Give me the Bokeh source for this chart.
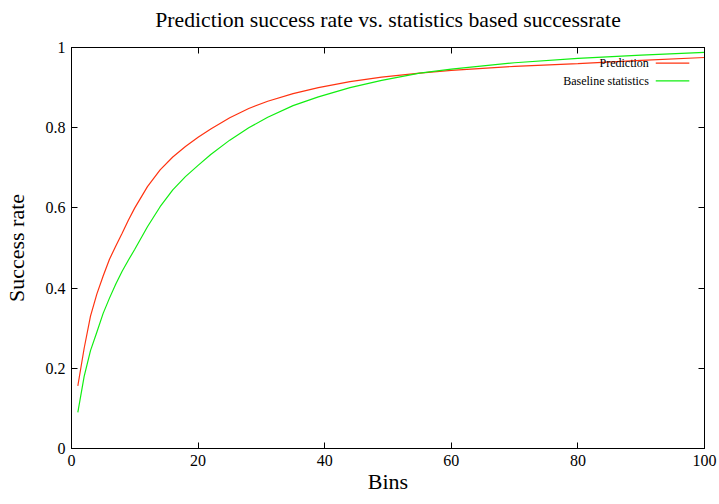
from bokeh.plotting import figure
from bokeh.models import LinearAxis, FixedTicker, Label, Arrow, Range1d, CustomLabelingPolicy
from bokeh.embed import file_html
from bokeh.resources import INLINE

bins = [1, 2, 3, 4, 5, 6, 7, 8, 9, 10, 12, 14, 16, 18, 20, 22, 25, 28, 31, 35, 39, 44, 49,
        55, 60, 70, 80, 90, 100]
prediction = [0.156, 0.25, 0.33, 0.385, 0.43, 0.472, 0.505, 0.537, 0.57, 0.60, 0.653, 0.695,
              0.727, 0.753, 0.776, 0.797, 0.825, 0.848, 0.866, 0.885, 0.900, 0.915, 0.926,
              0.936, 0.943, 0.953, 0.960, 0.968, 0.975]
baseline = [0.09, 0.18, 0.244, 0.29, 0.337, 0.375, 0.41, 0.442, 0.47, 0.497, 0.553, 0.603,
            0.645, 0.678, 0.706, 0.733, 0.769, 0.80, 0.826, 0.855, 0.877, 0.90, 0.918,
            0.936, 0.946, 0.962, 0.973, 0.981, 0.988]
x_ticks = [0, 20, 40, 60, 80, 100]
y_ticks = [0, 0.2, 0.4, 0.6, 0.8, 1]
y_tick_labels = ["0", "0.2", "0.4", "0.6", "0.8", "1"]
series_names = ["Prediction", "Baseline statistics"]
colors = ["#ff3311", "#11ee11"]

FONT = "Liberation Serif"

p = figure(frame_width=633, frame_height=401, output_backend="svg", toolbar_location=None,
           x_range=Range1d(0, 100), y_range=Range1d(0, 1),
           min_border_left=64, min_border_right=6, min_border_top=40, min_border_bottom=40,
           title="Prediction success rate vs. statistics based successrate")
p.title.align = "center"
p.title.text_font = FONT
p.title.text_font_size = "21.7px"
p.title.text_font_style = "normal"
p.title.text_color = "black"
p.title.offset = 0
p.title.standoff = 10

p.grid.visible = False
p.outline_line_color = "black"
p.outline_line_width = 1
p.background_fill_color = "white"
p.border_fill_color = "white"

for ax in p.xaxis:
    ax.ticker = FixedTicker(ticks=x_ticks)
    ax.axis_label = "Bins"
for ax in p.yaxis:
    ax.ticker = FixedTicker(ticks=y_ticks)
    ax.major_label_overrides = {t: l for t, l in zip(y_ticks, y_tick_labels)}
    ax.axis_label = "Success rate"

for ax in list(p.xaxis) + list(p.yaxis):
    ax.major_tick_in = 6
    ax.major_tick_out = 0
    ax.minor_tick_in = 0
    ax.minor_tick_out = 0
    ax.axis_line_color = "black"
    ax.major_tick_line_color = "black"
    ax.major_label_text_font = FONT
    ax.major_label_text_font_size = "16px"
    ax.major_label_text_color = "black"
    ax.axis_label_text_font = FONT
    ax.axis_label_text_font_size = "22px"
    ax.axis_label_text_font_style = "normal"
    ax.axis_label_text_color = "black"

p.xaxis.major_label_standoff = 6
p.yaxis.major_label_standoff = 6
p.xaxis.axis_label_standoff = 0
p.yaxis.axis_label_standoff = 14

hide_all = CustomLabelingPolicy(code="""
for (const i of indices)
    indices.unset(i)
return indices
""")

top = LinearAxis(ticker=FixedTicker(ticks=x_ticks), major_tick_in=6, major_tick_out=0,
                 minor_tick_in=0, minor_tick_out=0, major_label_policy=hide_all,
                 major_label_standoff=0, axis_line_color="black")
right = LinearAxis(ticker=FixedTicker(ticks=y_ticks), major_tick_in=6, major_tick_out=0,
                   minor_tick_in=0, minor_tick_out=0, major_label_policy=hide_all,
                   major_label_standoff=0, axis_line_color="black")
p.add_layout(top, "above")
p.add_layout(right, "right")

for ys, c in zip([prediction, baseline], colors):
    p.line(bins, ys, line_color=c, line_width=1.2)

# gnuplot-style key (text then sample line)
key_text_x = 91.2
key_line_x0, key_line_x1 = 92.3, 97.6
key_ys = [0.961, 0.917]
for name, c, ky in zip(series_names, colors, key_ys):
    p.add_layout(Label(x=key_text_x, y=ky, text=name, text_align="right", text_baseline="middle",
                       text_font=FONT, text_font_size="12px", text_color="black"))
    p.add_layout(Arrow(x_start=key_line_x0, y_start=ky, x_end=key_line_x1, y_end=ky,
                       line_color=c, line_width=1.2, end=None, start=None))

open("out.html", "w").write(file_html(p, INLINE))
